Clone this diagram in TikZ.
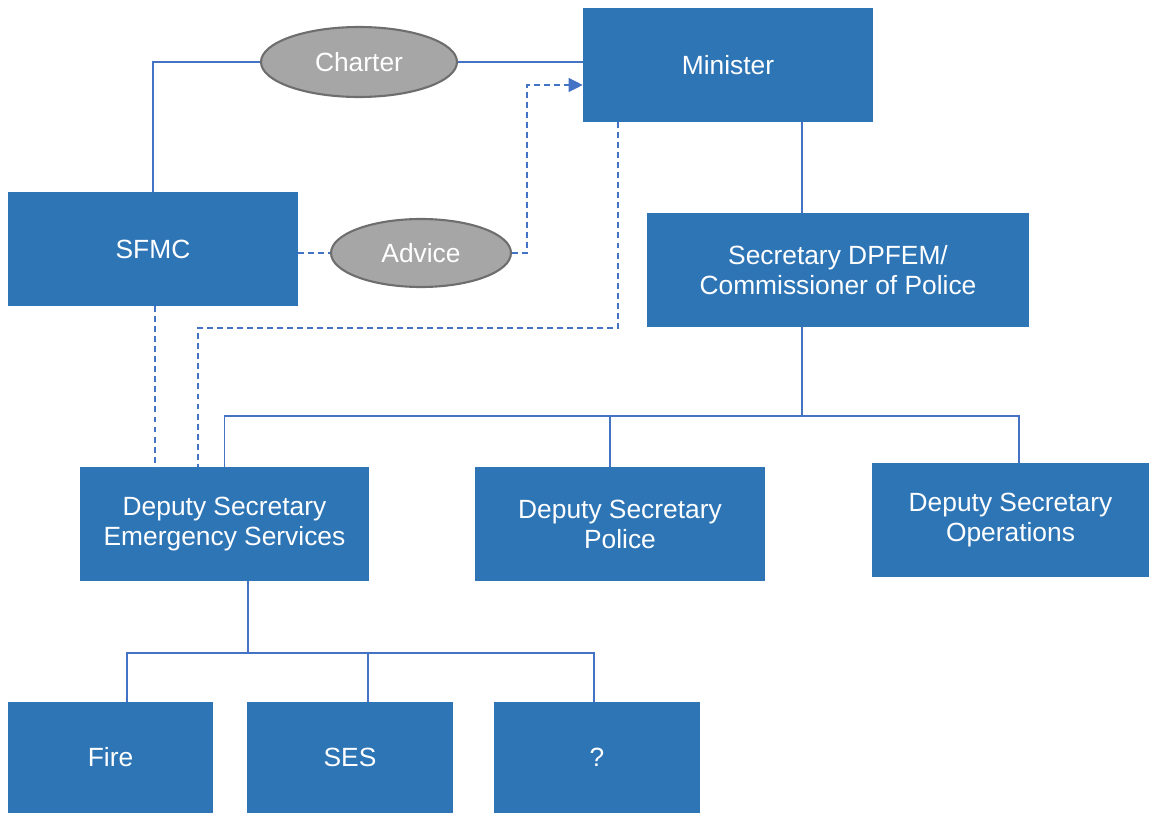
\documentclass[tikz,border=0pt]{standalone}
\usepackage{fontspec}
\setmainfont{Liberation Sans}
\usetikzlibrary{arrows.meta, shapes.geometric}
\definecolor{orgblue}{HTML}{2E75B6}
\definecolor{linkblue}{HTML}{4472C4}
\definecolor{ovalgrey}{HTML}{A6A6A6}
\definecolor{ovaledge}{HTML}{6E6E6E}

\begin{document}
\begin{tikzpicture}[x=0.02cm, y=-0.02cm, >={Triangle[length=0.28cm, width=0.28cm]},
  unit/.style={fill=orgblue, text=white, inner sep=0pt, minimum width=5.8cm, minimum height=2.28cm,
    align=center, font=\fontsize{15}{17}\selectfont},
  leaf/.style={unit, minimum width=4.12cm, minimum height=2.22cm},
  oval/.style={ellipse, draw=ovaledge, line width=1.2pt, fill=ovalgrey, text=white, inner sep=0pt,
    font=\fontsize{15}{17}\selectfont},
  link/.style={draw=linkblue, line width=0.75pt},
  hint/.style={link, dash pattern=on 3.4pt off 2.3pt}]
  \useasboundingbox (0,0) rectangle (1150,814);

  % boxes
  \node[unit] (minister) at (728,65) {Minister};
  \node[unit] (sfmc) at (153,249) {SFMC};
  \node[unit, minimum width=7.64cm] (secretary) at (838,270) {Secretary DPFEM/\\Commissioner of Police};
  \node[unit] (dses) at (224.5,524) {Deputy Secretary\\Emergency Services};
  \node[unit] (dspol) at (620,524) {Deputy Secretary\\Police};
  \node[unit, minimum width=5.54cm] (dsops) at (1010.5,520) {Deputy Secretary\\Operations};
  \node[leaf] (fire) at (110.5,757.5) {Fire};
  \node[leaf] (ses) at (350,757.5) {SES};
  \node[leaf] (unknown) at (597,757.5) {?};

  % ovals on the links
  \node[oval, minimum width=3.92cm, minimum height=1.4cm] (charter) at (359,62) {Charter};
  \node[oval, minimum width=3.6cm, minimum height=1.36cm] (advice) at (421,253) {Advice};

  \coordinate (bend) at (527,85);
  \coordinate (turn) at (618,328);
  \coordinate (spine) at (802,416);
  \coordinate (hub) at (248,653);

  % charter and advice
  \draw[link] (sfmc.north) |- (charter.west);
  \draw[link] (charter.east) -- (charter.east -| minister.west);
  \draw[hint] (sfmc.east |- advice.west) -- (advice.west);
  \draw[hint, ->] (advice.east) -| (bend) -- (bend -| minister.west);

  % dotted reporting lines
  \draw[hint] (turn |- minister.south) -- (turn) -| ([xshift=2.38cm]dses.north west);
  \draw[hint] ([xshift=0.04cm]sfmc.south) -- ([xshift=0.04cm]sfmc.south |- dses.north);

  % line of command
  \draw[link] (minister.south -| spine) -- (secretary.north -| spine);
  \draw[link] (secretary.south -| spine) -- (spine);
  \draw[link] (dses.north) |- (spine) -| ([xshift=0.17cm]dsops.north);
  \draw[link] ([xshift=-0.2cm]dspol.north) -- ([xshift=-0.2cm]dspol.north |- spine);

  \draw[link] (dses.south -| hub) -- (hub);
  \draw[link] ([xshift=0.33cm]fire.north) |- (hub) -| ([xshift=-0.06cm]unknown.north);
  \draw[link] ([xshift=0.36cm]ses.north) -- ([xshift=0.36cm]ses.north |- hub);
\end{tikzpicture}
\end{document}
